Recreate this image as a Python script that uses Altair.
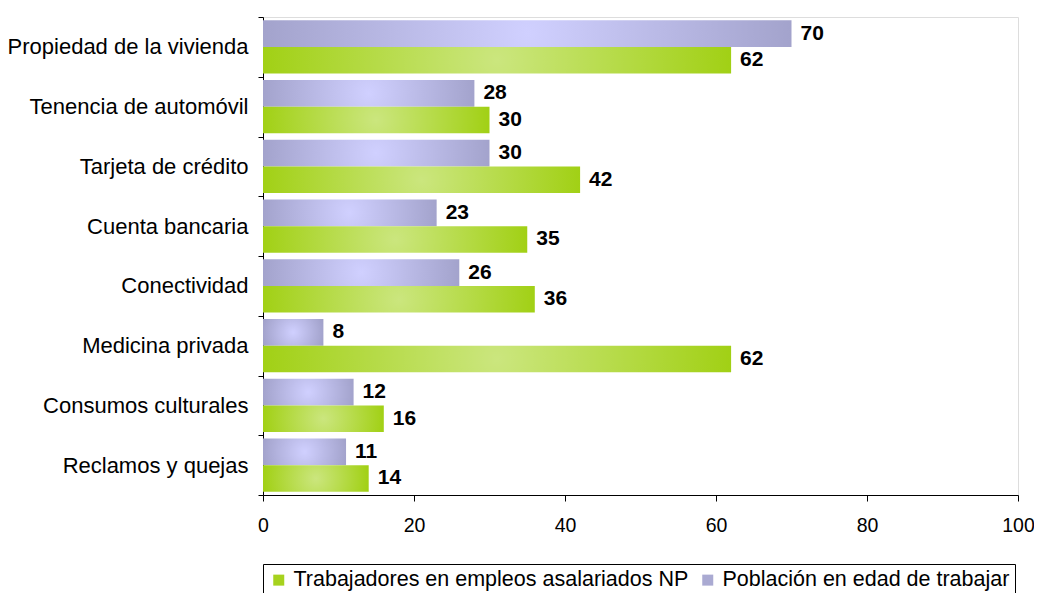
import altair as alt
import pandas as pd

categorias = [
    "Propiedad de la vivienda",
    "Tenencia de automóvil",
    "Tarjeta de crédito",
    "Cuenta bancaria",
    "Conectividad",
    "Medicina privada",
    "Consumos culturales",
    "Reclamos y quejas",
]
poblacion = [70, 28, 30, 23, 26, 8, 12, 11]
trabajadores = [62, 30, 42, 35, 36, 62, 16, 14]
serie_pob = "Población en edad de trabajar"
serie_trab = "Trabajadores en empleos asalariados NP"
x_ticks = [0, 20, 40, 60, 80, 100]

rows = []
for c, p, t in zip(categorias, poblacion, trabajadores):
    rows.append({"categoria": c, "serie": serie_pob, "valor": p})
    rows.append({"categoria": c, "serie": serie_trab, "valor": t})
df = pd.DataFrame(rows)

FONT = "Liberation Sans"
PURPLE_DARK = "#9a9ac2"
PURPLE_LIGHT = "#d0d0ff"
GREEN_DARK = "#99cc00"
GREEN_LIGHT = "#cbe67e"

grad_pob = {
    "gradient": "radial",
    "x1": 0.5, "y1": 0.5, "r1": 0,
    "x2": 0.5, "y2": 0.5, "r2": 0.6,
    "stops": [
        {"offset": 0, "color": PURPLE_LIGHT},
        {"offset": 1, "color": PURPLE_DARK},
    ],
}
grad_trab = {
    "gradient": "radial",
    "x1": 0.5, "y1": 0.5, "r1": 0,
    "x2": 0.5, "y2": 0.5, "r2": 0.6,
    "stops": [
        {"offset": 0, "color": GREEN_LIGHT},
        {"offset": 1, "color": GREEN_DARK},
    ],
}

y_enc = alt.Y(
    "categoria:N",
    sort=categorias,
    scale=alt.Scale(paddingInner=0, paddingOuter=0),
    axis=alt.Axis(
        title=None,
        tickBand="extent",
        labelFont=FONT,
        labelFontSize=22,
        labelColor="black",
        labelPadding=10,
        labelLimit=400,
        domainColor="black",
        tickColor="black",
        tickSize=5,
    ),
)
yoff_enc = alt.YOffset(
    "serie:N",
    sort=[serie_pob, serie_trab],
    scale=alt.Scale(paddingInner=0, paddingOuter=0.125),
)
x_enc = alt.X(
    "valor:Q",
    scale=alt.Scale(domain=[0, 100]),
    axis=alt.Axis(
        title=None,
        values=x_ticks,
        grid=False,
        labelFlush=False,
        labelFont=FONT,
        labelFontSize=19.5,
        labelColor="black",
        labelPadding=15,
        domainColor="black",
        tickColor="black",
        tickSize=6,
    ),
)

base = alt.Chart(df)

bars = base.mark_bar(opacity=1).encode(
    y=y_enc,
    yOffset=yoff_enc,
    x=x_enc,
    fill=alt.condition(
        alt.datum.serie == serie_pob, alt.value(grad_pob), alt.value(grad_trab)
    ),
)

legend_layer = base.mark_bar(opacity=1).encode(
    y=y_enc,
    yOffset=yoff_enc,
    x=alt.datum(0),
    x2=alt.datum(0),
    color=alt.Color(
        "serie:N",
        scale=alt.Scale(domain=[serie_trab, serie_pob], range=["#a6d21e", "#aaaad2"]),
        legend=alt.Legend(
            title=None,
            orient="none",
            legendX=0,
            legendY=547,
            direction="horizontal",
            strokeColor="black",
            fillColor="white",
            padding=5,
            labelFont=FONT,
            labelFontSize=21.5,
            labelColor="black",
            labelLimit=1000,
            labelOffset=4,
            symbolType="square",
            symbolSize=121,
            symbolStrokeWidth=0,
            columnPadding=8,
        ),
    ),
)

labels = base.mark_text(
    align="left",
    baseline="middle",
    dx=9,
    font=FONT,
    fontSize=21,
    fontWeight="bold",
    color="black",
).encode(
    y=y_enc,
    yOffset=yoff_enc,
    x=x_enc,
    text=alt.Text("valor:Q"),
)

chart = (
    alt.layer(bars, legend_layer, labels)
    .properties(
        width=755,
        height=478,
        autosize=alt.AutoSizeParams(type="none"),
        padding={"left": 255, "top": 9, "right": 16, "bottom": 98},
    )
    .configure_view(strokeWidth=0)
    .configure(background="white")
)

chart.save("out.html", embed_options={"renderer": "svg", "actions": False})
